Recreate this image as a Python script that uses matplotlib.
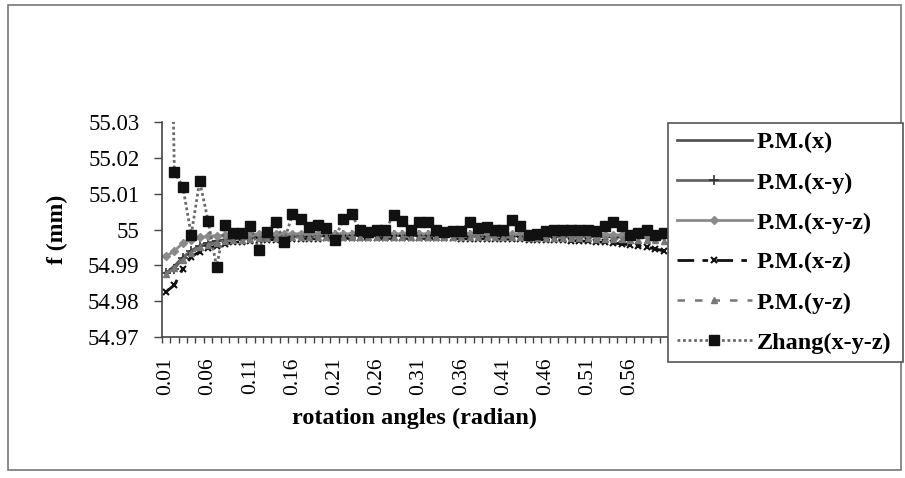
import numpy as np
import matplotlib.pyplot as plt
from matplotlib.patches import Rectangle
from matplotlib.ticker import FixedLocator, FixedFormatter

plt.rcParams['font.family'] = ['Liberation Serif', 'DejaVu Serif']

# rotation angles 0.01 .. 0.60 (category axis)
angles = ["%.2f" % (k / 100) for k in range(1, 61)]

pm_x = [54.9878, 54.9898, 54.9922, 54.9941, 54.9954, 54.9962, 54.9967, 54.9971, 54.9974, 54.9976,
        54.9977, 54.9978, 54.9979, 54.9980, 54.9980, 54.9981, 54.9981, 54.9982, 54.9982, 54.9982,
        54.9982, 54.9983, 54.9983, 54.9983, 54.9983, 54.9983, 54.9983, 54.9983, 54.9983, 54.9983,
        54.9983, 54.9983, 54.9983, 54.9983, 54.9983, 54.9983, 54.9983, 54.9983, 54.9983, 54.9983,
        54.9982, 54.9982, 54.9982, 54.9982, 54.9982, 54.9982, 54.9981, 54.9981, 54.9981, 54.9981,
        54.9980, 54.9980, 54.9980, 54.9979, 54.9979, 54.9978, 54.9978, 54.9977, 54.9977, 54.9976]

pm_xy = [54.9880, 54.9890, 54.9920, 54.9940, 54.9955, 54.9962, 54.9968, 54.9972, 54.9975, 54.9977,
         54.9979, 54.9980, 54.9981, 54.9981, 54.9982, 54.9982, 54.9983, 54.9983, 54.9983, 54.9984,
         54.9984, 54.9984, 54.9984, 54.9984, 54.9984, 54.9984, 54.9984, 54.9984, 54.9984, 54.9984,
         54.9984, 54.9984, 54.9984, 54.9984, 54.9984, 54.9984, 54.9984, 54.9984, 54.9984, 54.9983,
         54.9983, 54.9983, 54.9983, 54.9983, 54.9983, 54.9982, 54.9982, 54.9982, 54.9982, 54.9981,
         54.9981, 54.9981, 54.9980, 54.9980, 54.9979, 54.9979, 54.9978, 54.9978, 54.9977, 54.9977]

pm_xyz = [54.9925, 54.9940, 54.9962, 54.9972, 54.9978, 54.9981, 54.9983, 54.9984, 54.9985, 54.9986,
          54.9986, 54.9987, 54.9987, 54.9987, 54.9987, 54.9988, 54.9988, 54.9988, 54.9988, 54.9988,
          54.9988, 54.9988, 54.9988, 54.9988, 54.9988, 54.9988, 54.9988, 54.9988, 54.9988, 54.9988,
          54.9988, 54.9988, 54.9988, 54.9988, 54.9988, 54.9988, 54.9988, 54.9988, 54.9988, 54.9988,
          54.9987, 54.9987, 54.9987, 54.9987, 54.9987, 54.9987, 54.9987, 54.9987, 54.9986, 54.9986,
          54.9986, 54.9986, 54.9986, 54.9985, 54.9985, 54.9985, 54.9985, 54.9984, 54.9984, 54.9984]

pm_xz = [54.9826, 54.9845, 54.9890, 54.9924, 54.9938, 54.9947, 54.9955, 54.9960, 54.9964, 54.9966,
         54.9968, 54.9970, 54.9971, 54.9972, 54.9973, 54.9973, 54.9974, 54.9974, 54.9974, 54.9975,
         54.9975, 54.9975, 54.9975, 54.9975, 54.9975, 54.9975, 54.9975, 54.9975, 54.9975, 54.9975,
         54.9975, 54.9975, 54.9975, 54.9975, 54.9975, 54.9974, 54.9974, 54.9974, 54.9974, 54.9974,
         54.9973, 54.9973, 54.9973, 54.9972, 54.9972, 54.9971, 54.9970, 54.9970, 54.9969, 54.9968,
         54.9967, 54.9966, 54.9964, 54.9962, 54.9960, 54.9957, 54.9954, 54.9950, 54.9946, 54.9940]

pm_yz = [54.9877, 54.9892, 54.9914, 54.9935, 54.9950, 54.9958, 54.9963, 54.9967, 54.9970, 54.9972,
         54.9974, 54.9975, 54.9976, 54.9977, 54.9977, 54.9978, 54.9978, 54.9978, 54.9979, 54.9979,
         54.9979, 54.9979, 54.9979, 54.9979, 54.9979, 54.9979, 54.9979, 54.9979, 54.9979, 54.9979,
         54.9979, 54.9979, 54.9979, 54.9979, 54.9979, 54.9979, 54.9979, 54.9979, 54.9978, 54.9978,
         54.9978, 54.9978, 54.9978, 54.9977, 54.9977, 54.9977, 54.9976, 54.9976, 54.9976, 54.9975,
         54.9975, 54.9974, 54.9974, 54.9973, 54.9973, 54.9972, 54.9971, 54.9971, 54.9970, 54.9969]

zhang = [55.1500, 55.0160, 55.0120, 54.9985, 55.0135, 55.0024, 54.9896, 55.0012, 54.9990, 54.9990,
         55.0010, 54.9944, 54.9994, 55.0022, 54.9966, 55.0044, 55.0030, 55.0007, 55.0012, 55.0004,
         54.9970, 55.0030, 55.0042, 55.0000, 54.9994, 55.0000, 55.0000, 55.0040, 55.0025, 55.0000,
         55.0022, 55.0022, 55.0000, 54.9994, 54.9996, 54.9996, 55.0022, 55.0004, 55.0006, 55.0000,
         54.9998, 55.0026, 55.0010, 54.9985, 54.9988, 54.9996, 55.0000, 55.0000, 54.9998, 55.0000,
         55.0000, 54.9996, 55.0010, 55.0022, 55.0010, 54.9986, 54.9990, 55.0000, 54.9985, 54.9990]

y_ticks = [54.97, 54.98, 54.99, 55.00, 55.01, 55.02, 55.03]
y_labels = ["54.97", "54.98", "54.99", "55", "55.01", "55.02", "55.03"]

fig = plt.figure(figsize=(9.05, 4.78), dpi=100)
ax = fig.add_axes([161.7 / 905, 1 - 337 / 478, (668 - 161.7) / 905, (337 - 122) / 478])

x = np.arange(1, len(angles) + 1)
ax.plot(x, pm_x, color="#555555", lw=2, label="P.M.(x)")
ax.plot(x, pm_xy, color="#666666", lw=2, marker="+", ms=7, mec="#333333", mew=1.2,
        label="P.M.(x-y)")
ax.plot(x, pm_xyz, color="#8a8a8a", lw=2, marker="D", ms=4, mfc="#8a8a8a", mec="#8a8a8a",
        label="P.M.(x-y-z)")
ax.plot(x, pm_xz, color="#111111", lw=2, ls=(0, (6, 3, 2, 3)), marker="x", ms=5, mew=1.5,
        label="P.M.(x-z)")
ax.plot(x, pm_yz, color="#777777", lw=1.8, ls=(0, (3, 4)), marker="^", ms=5,
        mfc="#777777", mec="#777777", label="P.M.(y-z)")
ax.plot(x, zhang, color="#6a6a6a", lw=2, ls=(0, (1, 1)), marker="s", ms=6.5,
        mfc="#111111", mec="#111111", label="Zhang(x-y-z)")

ax.set_xlim(0.5, len(angles) + 0.5)
ax.set_ylim(54.97, 55.03)

ax.yaxis.set_major_locator(FixedLocator(y_ticks))
ax.yaxis.set_major_formatter(FixedFormatter(y_labels))
ax.tick_params(axis="y", direction="out", length=6, width=1, labelsize=16.5, pad=10, color="#444444")

lab_pos = x[::5]
ax.xaxis.set_major_locator(FixedLocator(lab_pos))
ax.xaxis.set_major_formatter(FixedFormatter(angles[::5]))
ax.xaxis.set_minor_locator(FixedLocator(np.arange(0.5, len(angles) + 1, 1)))
ax.tick_params(axis="x", which="major", length=0, labelsize=15.5, labelrotation=90, pad=15)
ax.tick_params(axis="x", which="minor", direction="out", length=4, width=1, color="#444444")

for s in ["top", "right"]:
    ax.spines[s].set_visible(False)
for s in ["left", "bottom"]:
    ax.spines[s].set_color("#444444")
    ax.spines[s].set_linewidth(1.2)

ax.set_xlabel("rotation angles (radian)", fontsize=17.5, fontweight="bold", labelpad=9)
ax.set_ylabel("f (mm)", fontsize=17, fontweight="bold", labelpad=14)

leg = fig.legend(loc="upper left", bbox_to_anchor=(668 / 905, 1 - 123 / 478, (903 - 668) / 905, 0.0),
                 mode="expand", borderaxespad=0, numpoints=1, handlelength=3.1, handletextpad=0.2,
                 labelspacing=0.74, borderpad=0.35, fancybox=False, framealpha=1,
                 edgecolor="#555555", prop={"weight": "bold", "size": 17.5})
leg.get_frame().set_linewidth(1.2)

# outer chart border
fig.patches.append(Rectangle((8 / 905, 1 - 470 / 478), (901 - 8) / 905, (470 - 5) / 478,
                             transform=fig.transFigure, fill=False, ec="#777777", lw=1.2))

plt.savefig("out.png", dpi=100)
